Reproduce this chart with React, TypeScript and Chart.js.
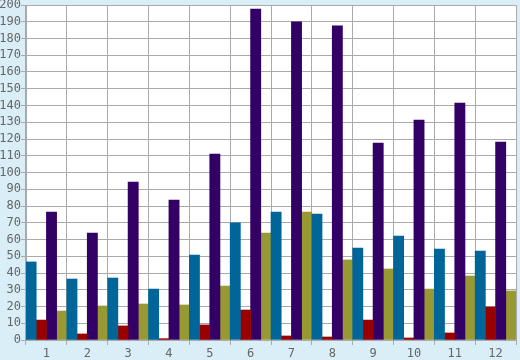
import React, { useEffect, useRef } from "react";
import { Chart, registerables } from "chart.js";

Chart.register(...registerables);

const categories = ["1", "2", "3", "4", "5", "6", "7", "8", "9", "10", "11", "12"];
const seriesBlue = [46.6, 36.4, 37, 30.4, 50.7, 69.9, 76.4, 75.2, 54.9, 62.1, 54.3, 53.1];
const seriesRed = [11.9, 3.6, 8.4, 0.8, 9.0, 17.9, 2.4, 1.8, 11.9, 1.2, 4.2, 19.7];
const seriesPurple = [76.4, 63.9, 94.3, 83.6, 111.0, 197.6, 189.9, 187.5, 117.6, 131.3, 141.5, 118.2];
const seriesOlive = [17.3, 20.3, 21.5, 20.9, 32.2, 63.9, 76.4, 47.8, 42.4, 30.4, 38.2, 29.3];
const yMin = 0;
const yMax = 200;
const yStep = 10;

const plotBg = {
  id: "plotBg",
  beforeDraw(chart: any) {
    const { ctx, chartArea } = chart;
    ctx.save();
    ctx.fillStyle = "#ffffff";
    ctx.fillRect(chartArea.left, chartArea.top, chartArea.right - chartArea.left, chartArea.bottom - chartArea.top);
    ctx.restore();
  },
};

export default function App() {
  const ref = useRef<HTMLCanvasElement>(null);
  useEffect(() => {
    document.body.style.margin = "0";
    const font = { family: "'DejaVu Sans Mono', monospace", size: 12 };
    const chart = new Chart(ref.current!, {
      type: "bar",
      data: {
        labels: categories,
        datasets: [
          { label: "A", data: seriesBlue, backgroundColor: "#006699" },
          { label: "B", data: seriesRed, backgroundColor: "#990000" },
          { label: "C", data: seriesPurple, backgroundColor: "#330066" },
          { label: "D", data: seriesOlive, backgroundColor: "#999933" },
        ],
      },
      options: {
        animation: false,
        responsive: false,
        maintainAspectRatio: false,
        layout: { padding: { top: 5, right: 4, left: 0, bottom: 0 } },
        datasets: { bar: { categoryPercentage: 1, barPercentage: 1, borderWidth: 0 } },
        plugins: { legend: { display: false }, tooltip: { enabled: false } },
        scales: {
          x: {
            grid: { color: "#aaaaaa", tickLength: 5, offset: true },
            border: { color: "#aaaaaa" },
            ticks: { font, color: "#666666", padding: 2, maxRotation: 0, autoSkip: false },
            afterFit(s: any) {
              s.height = 20;
              s.paddingLeft = 0;
              s.paddingRight = 0;
            },
          },
          y: {
            min: yMin,
            max: yMax,
            grid: { color: "#aaaaaa", tickLength: 5 },
            border: { color: "#aaaaaa" },
            ticks: { stepSize: yStep, font, color: "#666666", padding: 0, autoSkip: false },
            afterFit(s: any) {
              s.width = 26;
              s.paddingTop = 0;
              s.paddingBottom = 0;
            },
          },
        },
      },
      plugins: [plotBg],
    });
    return () => chart.destroy();
  }, []);
  return (
    <div style={{ width: 520, height: 360, background: "#d9eef6" }}>
      <canvas ref={ref} width={520} height={360} style={{ display: "block" }} />
    </div>
  );
}
